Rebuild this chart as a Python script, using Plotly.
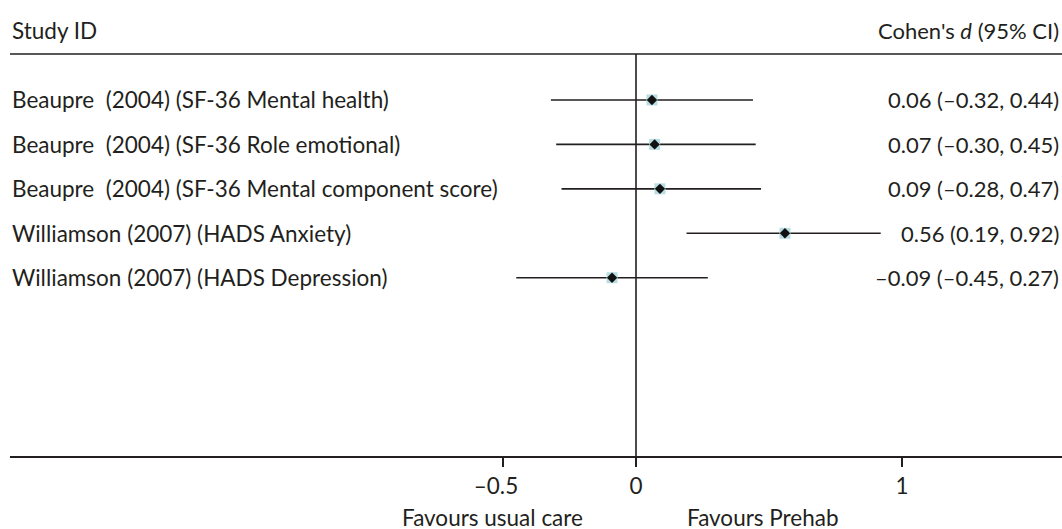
import plotly.graph_objects as go

studies = [
    "Beaupre  (2004) (SF-36 Mental health)",
    "Beaupre  (2004) (SF-36 Role emotional)",
    "Beaupre  (2004) (SF-36 Mental component score)",
    "Williamson (2007) (HADS Anxiety)",
    "Williamson (2007) (HADS Depression)",
]
effect = [0.06, 0.07, 0.09, 0.56, -0.09]
ci_low = [-0.32, -0.30, -0.28, 0.19, -0.45]
ci_high = [0.44, 0.45, 0.47, 0.92, 0.27]
ci_text = [
    "0.06 (\u20130.32, 0.44)",
    "0.07 (\u20130.30, 0.45)",
    "0.09 (\u20130.28, 0.47)",
    "0.56 (0.19, 0.92)",
    "\u20130.09 (\u20130.45, 0.27)",
]
tick_vals = [-0.5, 0, 1]
tick_text = ["\u20130.5\u2002\u2009", "0", "1"]

W, H = 1062, 529
TXT = "#231f20"
FONT = "Lato"
FS = 22.5
FS_R = 22
rows = list(range(1, len(studies) + 1))

# reference pixel geometry (window coordinates)
x0px, x1px = 636.0, 902.0
scale = x1px - x0px
left_px = 10.0
right_px = 1062.0
top_px, bot_px = 54.0, 456.5
r1px, rstep = 100.0, 44.5

xr = [(left_px - x0px) / scale, (right_px - x0px) / scale]
yr = [1 + (bot_px - r1px) / rstep, 1 + (top_px - r1px) / rstep]

def px_x(p):
    return p / W

def px_y(p):
    return (bot_px - p) / (bot_px - top_px)

fig = go.Figure()
fig.add_trace(go.Scatter(
    x=effect, y=rows, mode="markers",
    marker=dict(symbol="square", size=11, color="#b9dde3", line=dict(width=0)),
    error_x=dict(type="data", symmetric=False,
                 array=[h - e for h, e in zip(ci_high, effect)],
                 arrayminus=[e - l for e, l in zip(effect, ci_low)],
                 thickness=1.6, width=0, color=TXT),
    hoverinfo="skip", showlegend=False,
))
fig.add_trace(go.Scatter(
    x=effect, y=rows, mode="markers",
    marker=dict(symbol="diamond", size=8, color="#111111", line=dict(width=0)),
    hoverinfo="skip", showlegend=False,
))

for r, s, c in zip(rows, studies, ci_text):
    fig.add_annotation(x=px_x(left_px), xref="paper", y=r, yref="y", text=s,
                       showarrow=False, xanchor="left", yanchor="middle",
                       font=dict(family=FONT, size=FS, color=TXT))
    fig.add_annotation(x=px_x(1061), xref="paper", y=r, yref="y", text=c,
                       showarrow=False, xanchor="right", yanchor="middle",
                       font=dict(family=FONT, size=FS_R, color=TXT))

fig.add_annotation(x=px_x(left_px), xref="paper", y=px_y(30), yref="paper",
                   text="Study ID", showarrow=False, xanchor="left", yanchor="middle",
                   font=dict(family=FONT, size=FS, color=TXT))
fig.add_annotation(x=px_x(1061), xref="paper", y=px_y(30), yref="paper",
                   text="Cohen's <i>d</i> (95% CI)", showarrow=False,
                   xanchor="right", yanchor="middle",
                   font=dict(family=FONT, size=FS_R, color=TXT))
fig.add_annotation(x=px_x(492), xref="paper", y=px_y(518), yref="paper",
                   text="Favours usual care", showarrow=False, xanchor="center",
                   yanchor="middle", font=dict(family=FONT, size=FS, color=TXT))
fig.add_annotation(x=px_x(763), xref="paper", y=px_y(518), yref="paper",
                   text="Favours Prehab", showarrow=False, xanchor="center",
                   yanchor="middle", font=dict(family=FONT, size=FS, color=TXT))

# top rule and null line
fig.add_shape(type="line", xref="x domain", yref="y domain", x0=0, x1=1, y0=1, y1=1,
              line=dict(color=TXT, width=1.6))
fig.add_shape(type="line", xref="x", yref="y domain", x0=0, x1=0, y0=0, y1=1,
              line=dict(color=TXT, width=1.6))

fig.update_xaxes(range=xr, domain=[px_x(left_px), 1], showgrid=False, zeroline=False,
                 showline=True, linecolor=TXT, linewidth=1.6,
                 ticks="outside", ticklen=9, tickwidth=1.6, tickcolor=TXT,
                 tickvals=tick_vals, ticktext=tick_text,
                 tickfont=dict(family=FONT, size=FS, color=TXT))
fig.update_yaxes(range=yr, visible=False, showgrid=False, zeroline=False)
fig.update_layout(width=W, height=H,
                  margin=dict(l=0, r=0, t=top_px, b=H - bot_px, pad=0),
                  plot_bgcolor="white", paper_bgcolor="white",
                  font=dict(family=FONT, color=TXT))
fig.write_html(
    "out.html",
    config={"displayModeBar": False, "staticPlot": True},
    post_script="document.body.style.margin='0';document.body.style.overflow='hidden';",
)
